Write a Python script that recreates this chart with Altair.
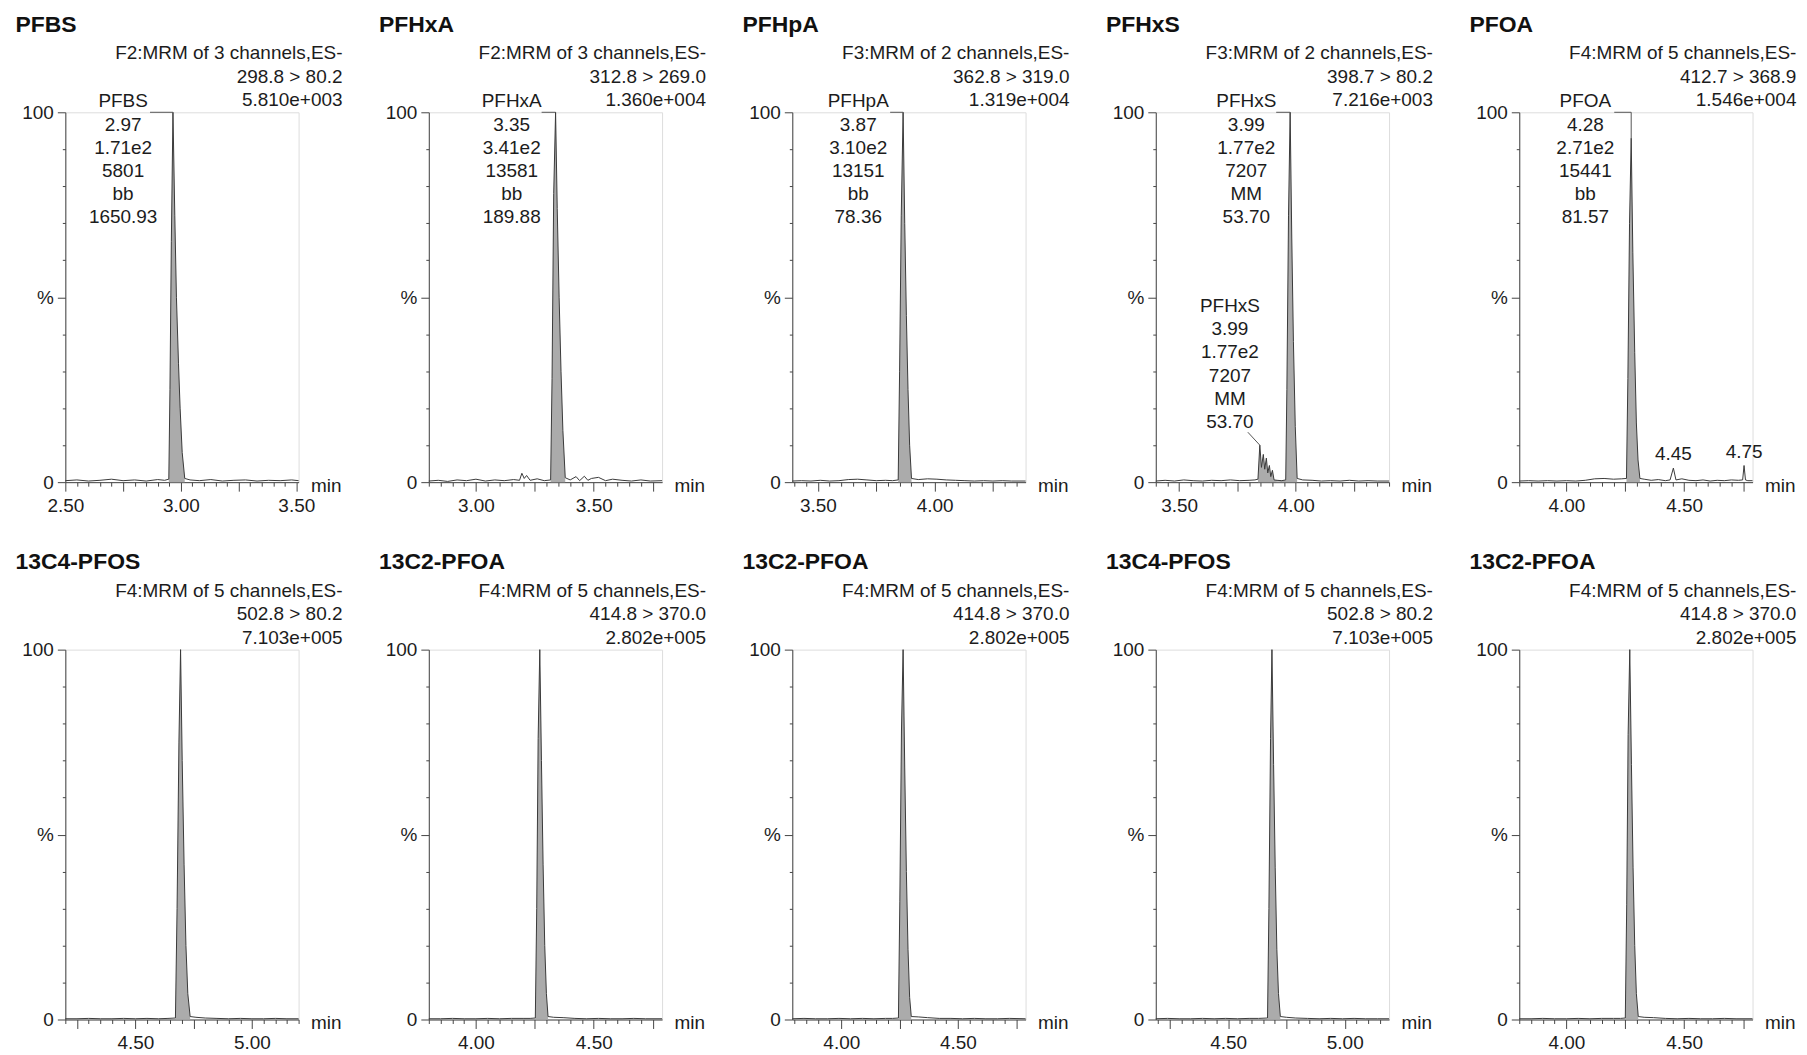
import numpy as np
import pandas as pd
import altair as alt

# ---------------- data ----------------
NAMES = ["PFBS", "PFHxA", "PFHpA", "PFHxS", "PFOA",
         "13C4-PFOS", "13C2-PFOA", "13C2-PFOA", "13C4-PFOS", "13C2-PFOA"]
FUNCS = ["F2:MRM of 3 channels,ES-", "F2:MRM of 3 channels,ES-",
         "F3:MRM of 2 channels,ES-", "F3:MRM of 2 channels,ES-",
         "F4:MRM of 5 channels,ES-", "F4:MRM of 5 channels,ES-",
         "F4:MRM of 5 channels,ES-", "F4:MRM of 5 channels,ES-",
         "F4:MRM of 5 channels,ES-", "F4:MRM of 5 channels,ES-"]
TRANSITIONS = ["298.8 > 80.2", "312.8 > 269.0", "362.8 > 319.0", "398.7 > 80.2",
               "412.7 > 368.9", "502.8 > 80.2", "414.8 > 370.0", "414.8 > 370.0",
               "502.8 > 80.2", "414.8 > 370.0"]
MAX_INT = ["5.810e+003", "1.360e+004", "1.319e+004", "7.216e+003", "1.546e+004",
           "7.103e+005", "2.802e+005", "2.802e+005", "7.103e+005", "2.802e+005"]
X_DOMAINS = [(2.50, 3.51), (2.80, 3.79), (3.39, 4.39), (3.40, 4.40), (3.80, 4.79),
             (4.20, 5.20), (3.80, 4.79), (3.79, 4.79), (4.19, 5.19), (3.80, 4.79)]

T1 = [2.50, 2.55, 2.60, 2.65, 2.70, 2.75, 2.80, 2.85, 2.90, 2.93, 2.948, 2.953, 2.959, 2.966,
      2.974, 2.981, 2.990, 2.997, 3.006, 3.017, 3.04, 3.08, 3.13, 3.18, 3.23, 3.28, 3.33,
      3.38, 3.43, 3.48, 3.51]
V1 = [0.4, 0.6, 0.3, 0.5, 0.8, 0.4, 0.6, 0.3, 0.7, 0.5, 0.8, 25, 65, 100, 72, 50, 32, 20, 8,
      1.0, 0.6, 0.4, 0.7, 0.3, 0.5, 0.6, 0.3, 0.5, 0.4, 0.6, 0.4]

T2 = [2.80, 2.84, 2.88, 2.92, 2.96, 3.00, 3.04, 3.08, 3.12, 3.16, 3.185, 3.195, 3.205, 3.215,
      3.23, 3.26, 3.29, 3.317, 3.323, 3.330, 3.338, 3.345, 3.353, 3.361, 3.369, 3.379, 3.40,
      3.425, 3.44, 3.46, 3.475, 3.49, 3.52, 3.55, 3.58, 3.62, 3.66, 3.70, 3.74, 3.79]
V2 = [0.3, 0.5, 0.2, 0.6, 0.4, 0.8, 0.3, 0.6, 0.4, 0.7, 0.5, 2.4, 1.0, 1.8, 0.5, 0.9, 0.4,
      0.6, 28, 78, 100, 74, 50, 30, 14, 1.2, 0.6, 1.5, 0.4, 1.6, 0.5, 1.0, 1.3, 0.4, 0.8,
      0.5, 0.3, 0.6, 0.3, 0.4]

T3 = [3.39, 3.43, 3.47, 3.51, 3.55, 3.59, 3.63, 3.67, 3.71, 3.75, 3.79, 3.82, 3.844, 3.850,
      3.857, 3.865, 3.872, 3.879, 3.886, 3.893, 3.901, 3.93, 3.97, 4.01, 4.05, 4.09, 4.13,
      4.17, 4.21, 4.25, 4.29, 4.33, 4.39]
V3 = [0.3, 0.4, 0.3, 0.5, 0.3, 0.4, 0.7, 0.8, 0.6, 0.4, 0.5, 0.4, 0.6, 30, 72, 100, 70, 45,
      25, 10, 1.0, 0.7, 0.9, 0.8, 0.6, 0.5, 0.4, 0.3, 0.4, 0.3, 0.4, 0.3, 0.3]

T4 = [3.40, 3.44, 3.48, 3.52, 3.56, 3.60, 3.64, 3.68, 3.72, 3.76, 3.80, 3.825, 3.838, 3.846,
      3.853, 3.861, 3.867, 3.874, 3.880, 3.887, 3.893, 3.900, 3.907, 3.92, 3.94, 3.957, 3.962,
      3.969, 3.976, 3.983, 3.990, 3.998, 4.006, 4.03, 4.07, 4.11, 4.15, 4.19, 4.23, 4.27,
      4.31, 4.35, 4.40]
V4 = [0.3, 0.5, 0.3, 0.6, 0.4, 0.3, 0.5, 0.4, 0.6, 0.4, 0.5, 0.6, 0.8, 10, 4, 7.5, 3.5, 6.5,
      2.5, 4.5, 1.5, 3.2, 0.6, 0.5, 0.4, 0.6, 25, 72, 100, 66, 38, 15, 1.0, 0.6, 0.5, 0.3,
      0.4, 0.3, 0.5, 0.3, 0.4, 0.3, 0.3]

T5 = [3.80, 3.84, 3.88, 3.92, 3.96, 4.00, 4.04, 4.08, 4.12, 4.16, 4.20, 4.235, 4.255, 4.261,
      4.268, 4.275, 4.282, 4.290, 4.297, 4.304, 4.312, 4.33, 4.36, 4.39, 4.42, 4.44, 4.454,
      4.465, 4.49, 4.52, 4.55, 4.58, 4.61, 4.64, 4.67, 4.70, 4.73, 4.748, 4.754, 4.760, 4.77,
      4.79]
V5 = [0.3, 0.4, 0.3, 0.4, 0.3, 0.4, 0.3, 0.5, 0.9, 1.0, 0.8, 0.9, 1.0, 28, 70, 93, 62, 35,
      16, 6, 1.0, 0.8, 0.5, 0.7, 0.4, 0.6, 3.8, 0.6, 0.9, 0.5, 0.4, 0.6, 0.3, 0.5, 0.4, 0.6,
      0.5, 0.6, 4.5, 0.6, 0.4, 0.4]

T6 = [4.20, 4.25, 4.30, 4.35, 4.40, 4.45, 4.50, 4.55, 4.60, 4.64, 4.672, 4.679, 4.687, 4.694,
      4.701, 4.709, 4.717, 4.725, 4.735, 4.76, 4.80, 4.85, 4.90, 4.95, 5.00, 5.05, 5.10,
      5.15, 5.20]
V6 = [0.2, 0.2, 0.3, 0.2, 0.2, 0.3, 0.2, 0.3, 0.2, 0.3, 0.4, 30, 75, 100, 70, 42, 20, 7,
      0.8, 0.6, 0.4, 0.3, 0.2, 0.3, 0.2, 0.2, 0.3, 0.2, 0.2]

T7 = [3.80, 3.85, 3.90, 3.95, 4.00, 4.05, 4.10, 4.15, 4.20, 4.23, 4.252, 4.258, 4.264, 4.271,
      4.278, 4.285, 4.292, 4.299, 4.306, 4.33, 4.37, 4.42, 4.47, 4.52, 4.57, 4.62, 4.67,
      4.72, 4.79]
V7 = [0.2, 0.2, 0.3, 0.2, 0.2, 0.3, 0.2, 0.3, 0.3, 0.3, 0.4, 30, 76, 100, 70, 42, 20, 7,
      0.8, 0.6, 0.5, 0.3, 0.2, 0.3, 0.2, 0.2, 0.3, 0.2, 0.2]

T8 = [3.79, 3.84, 3.89, 3.94, 3.99, 4.04, 4.09, 4.14, 4.19, 4.22, 4.245, 4.251, 4.258, 4.265,
      4.272, 4.279, 4.286, 4.293, 4.300, 4.33, 4.37, 4.42, 4.47, 4.52, 4.57, 4.62, 4.67,
      4.72, 4.79]
V8 = [0.2, 0.3, 0.2, 0.2, 0.3, 0.2, 0.3, 0.2, 0.3, 0.3, 0.4, 32, 78, 100, 68, 40, 19, 6,
      0.8, 0.7, 0.5, 0.3, 0.3, 0.2, 0.3, 0.2, 0.2, 0.3, 0.2]

T9 = [4.19, 4.24, 4.29, 4.34, 4.39, 4.44, 4.49, 4.54, 4.59, 4.63, 4.669, 4.675, 4.682, 4.688,
      4.695, 4.702, 4.709, 4.716, 4.724, 4.75, 4.79, 4.84, 4.89, 4.94, 4.99, 5.04, 5.09,
      5.14, 5.19]
V9 = [0.2, 0.3, 0.2, 0.2, 0.3, 0.2, 0.3, 0.2, 0.3, 0.3, 0.4, 30, 76, 100, 69, 41, 19, 7,
      0.8, 0.6, 0.4, 0.3, 0.2, 0.3, 0.2, 0.3, 0.2, 0.2, 0.2]

T10 = [3.80, 3.85, 3.90, 3.95, 4.00, 4.05, 4.10, 4.15, 4.20, 4.23, 4.250, 4.256, 4.262, 4.269,
       4.276, 4.283, 4.290, 4.297, 4.305, 4.33, 4.37, 4.42, 4.47, 4.52, 4.57, 4.62, 4.67,
       4.72, 4.79]
V10 = [0.2, 0.2, 0.3, 0.2, 0.2, 0.3, 0.2, 0.3, 0.3, 0.3, 0.4, 31, 77, 100, 69, 41, 20, 7,
       0.8, 0.6, 0.5, 0.3, 0.2, 0.3, 0.2, 0.2, 0.3, 0.2, 0.2]

TIMES = [T1, T2, T3, T4, T5, T6, T7, T8, T9, T10]
INTENS = [V1, V2, V3, V4, V5, V6, V7, V8, V9, V10]
# integrated (shaded) peak windows, minutes
SHADE = [[(2.948, 3.017)], [(3.317, 3.379)], [(3.844, 3.901)],
         [(3.838, 3.907), (3.957, 4.006)], [(4.255, 4.312)],
         [(4.672, 4.735)], [(4.252, 4.306)], [(4.245, 4.300)],
         [(4.669, 4.724)], [(4.250, 4.305)]]

# peak annotation blocks
LABEL_PANEL = [0, 1, 2, 3, 3, 4]
LABEL_T = [2.966, 3.338, 3.865, 3.976, 3.846, 4.275]
LABEL_V = [100, 100, 100, 100, 10, 93]
LABEL_LINES = [["PFBS", "2.97", "1.71e2", "5801", "bb", "1650.93"],
               ["PFHxA", "3.35", "3.41e2", "13581", "bb", "189.88"],
               ["PFHpA", "3.87", "3.10e2", "13151", "bb", "78.36"],
               ["PFHxS", "3.99", "1.77e2", "7207", "MM", "53.70"],
               ["PFHxS", "3.99", "1.77e2", "7207", "MM", "53.70"],
               ["PFOA", "4.28", "2.71e2", "15441", "bb", "81.57"]]
# small retention-time labels
RT_PANEL = [4, 4]
RT_T = [4.454, 4.754]
RT_V = [3.8, 4.5]
RT_TEXT = ["4.45", "4.75"]

# ---------------- layout / style ----------------
LABEL_DX = [-50, -44, -45, -44, -30, -46]          # px, text centre vs apex
LABEL_LEVEL = [100, 100, 100, 100, 46, 100]        # % level of first baseline
LABEL_CONN = [("bracket", 23), ("bracket", 14), ("bracket", 13),
              ("bracket", 14), ("leader", 0), ("bracket", 17)]

FONT = "Liberation Sans"
TXT = "#1c1c1c"
AX = "#454545"
LINE = "#3a3a3a"
FILL = "#ababab"
W, H = 234, 371
FS = 19


def x_axis(lo, hi):
    start = np.ceil(lo * 20 - 1e-6) / 20
    vals = [round(float(v), 2) for v in np.arange(start, hi + 1e-6, 0.05)]
    return alt.Axis(
        values=vals, title="min", titleX=W + 12, titleY=3, titleAlign="left",
        titleBaseline="middle", titleFont=FONT, titleFontSize=FS, titleFontWeight="normal",
        titleColor=TXT,
        labelExpr="abs(datum.value*2 - round(datum.value*2)) < 0.001 ? format(datum.value, '.2f') : ''",
        labelFont=FONT, labelFontSize=FS, labelColor=TXT, labelPadding=5,
        labelOverlap=False, labelFlush=False,
        tickSize={"condition": {"test": "abs(datum.value*4 - round(datum.value*4)) < 0.001",
                                "value": 9}, "value": 4},
        tickColor=AX, tickWidth=1, domainColor=AX, domainWidth=1, grid=False)


Y_AXIS = alt.Axis(
    values=list(range(0, 101, 10)), title=None,
    labelExpr="datum.value == 100 ? '100' : datum.value == 50 ? '%' : datum.value == 0 ? '0' : ''",
    labelFont=FONT, labelFontSize=FS, labelColor=TXT, labelPadding=4,
    labelOverlap=False, labelFlush=False,
    tickSize={"condition": {"test": "datum.value % 50 == 0", "value": 8}, "value": 3},
    tickColor=AX, tickWidth=1, domainColor=AX, domainWidth=1, grid=False)


def panel(i):
    lo, hi = X_DOMAINS[i]
    xs = alt.Scale(domain=[lo, hi], nice=False, zero=False)
    ys = alt.Scale(domain=[0, 100], nice=False)
    xa = x_axis(lo, hi)

    def X(f):
        return alt.X(f + ":Q", scale=xs, axis=xa)

    def Y(f):
        return alt.Y(f + ":Q", scale=ys, axis=Y_AXIS)

    df = pd.DataFrame({"t": TIMES[i], "v": INTENS[i]})
    wins = SHADE[i]
    filt = " || ".join(f"(datum.t >= {a} && datum.t <= {b})" for a, b in wins)
    seg = " + ".join(f"(datum.t > {b} ? 1 : 0)" for a, b in wins)
    area = (alt.Chart(df).transform_filter(filt).transform_calculate(seg=seg)
            .mark_area(color=FILL, opacity=1)
            .encode(x=X("t"), y=Y("v"), detail="seg:N"))
    line = alt.Chart(df).mark_line(color=LINE, strokeWidth=1).encode(x=X("t"), y=Y("v"))
    layers = [area, line]

    title = (alt.Chart(pd.DataFrame({"s": [NAMES[i]]}))
             .mark_text(align="left", baseline="alphabetic", font=FONT, fontSize=23,
                        fontWeight="bold", color="#111111")
             .encode(text="s:N", x=alt.value(-50), y=alt.value(-81)))
    header = (alt.Chart(pd.DataFrame({"s": ["\n".join([FUNCS[i], TRANSITIONS[i], MAX_INT[i]])]}))
              .mark_text(align="right", baseline="alphabetic", font=FONT, fontSize=FS,
                         color=TXT, lineBreak="\n", lineHeight=23.5)
              .encode(text="s:N", x=alt.value(W + 44), y=alt.value(-53)))
    layers += [title, header]

    for k, p in enumerate(LABEL_PANEL):
        if p != i:
            continue
        ldf = pd.DataFrame({"t": [LABEL_T[k]], "v": [LABEL_V[k]],
                            "ty": [LABEL_LEVEL[k]], "top": [100],
                            "txt": ["\n".join(LABEL_LINES[k])]})
        dy = -5 if LABEL_LEVEL[k] == 100 else 0
        layers.append(
            alt.Chart(ldf).mark_text(align="center", baseline="alphabetic", font=FONT,
                                     fontSize=FS, color=TXT, lineBreak="\n",
                                     lineHeight=23.3, dx=LABEL_DX[k], dy=dy)
            .encode(x=X("t"), y=Y("ty"), text="txt:N"))
        kind, L = LABEL_CONN[k]
        if kind == "bracket":
            layers.append(alt.Chart(ldf).mark_rule(color="#555555", strokeWidth=1, xOffset=-L)
                          .encode(x=X("t"), x2="t:Q", y=Y("top")))
            layers.append(alt.Chart(ldf).mark_rule(color="#555555", strokeWidth=1)
                          .encode(x=X("t"), y=Y("v"), y2="top:Q"))
        else:
            layers.append(alt.Chart(ldf).mark_rule(color="#555555", strokeWidth=1,
                                                   x2Offset=-12, y2Offset=-13)
                          .encode(x=X("t"), y=Y("v"), x2="t:Q", y2="v:Q"))

    for k, p in enumerate(RT_PANEL):
        if p != i:
            continue
        rdf = pd.DataFrame({"t": [RT_T[k]], "v": [RT_V[k]], "txt": [RT_TEXT[k]]})
        layers.append(alt.Chart(rdf).mark_text(align="center", baseline="alphabetic",
                                               font=FONT, fontSize=FS, color=TXT, dy=-8)
                      .encode(x=X("t"), y=Y("v"), text="txt:N"))

    return alt.layer(*layers).properties(width=W, height=H)


chart = (alt.concat(*[panel(i) for i in range(10)], columns=5,
                    spacing={"row": 168, "column": 130.6}, bounds="flush")
         .properties(padding={"left": 6.5, "top": 3, "right": 2, "bottom": 2},
                     background="white")
         .configure_view(stroke=None)
         .configure(font=FONT))

chart.save("out.html", embed_options={"renderer": "svg", "actions": False})
